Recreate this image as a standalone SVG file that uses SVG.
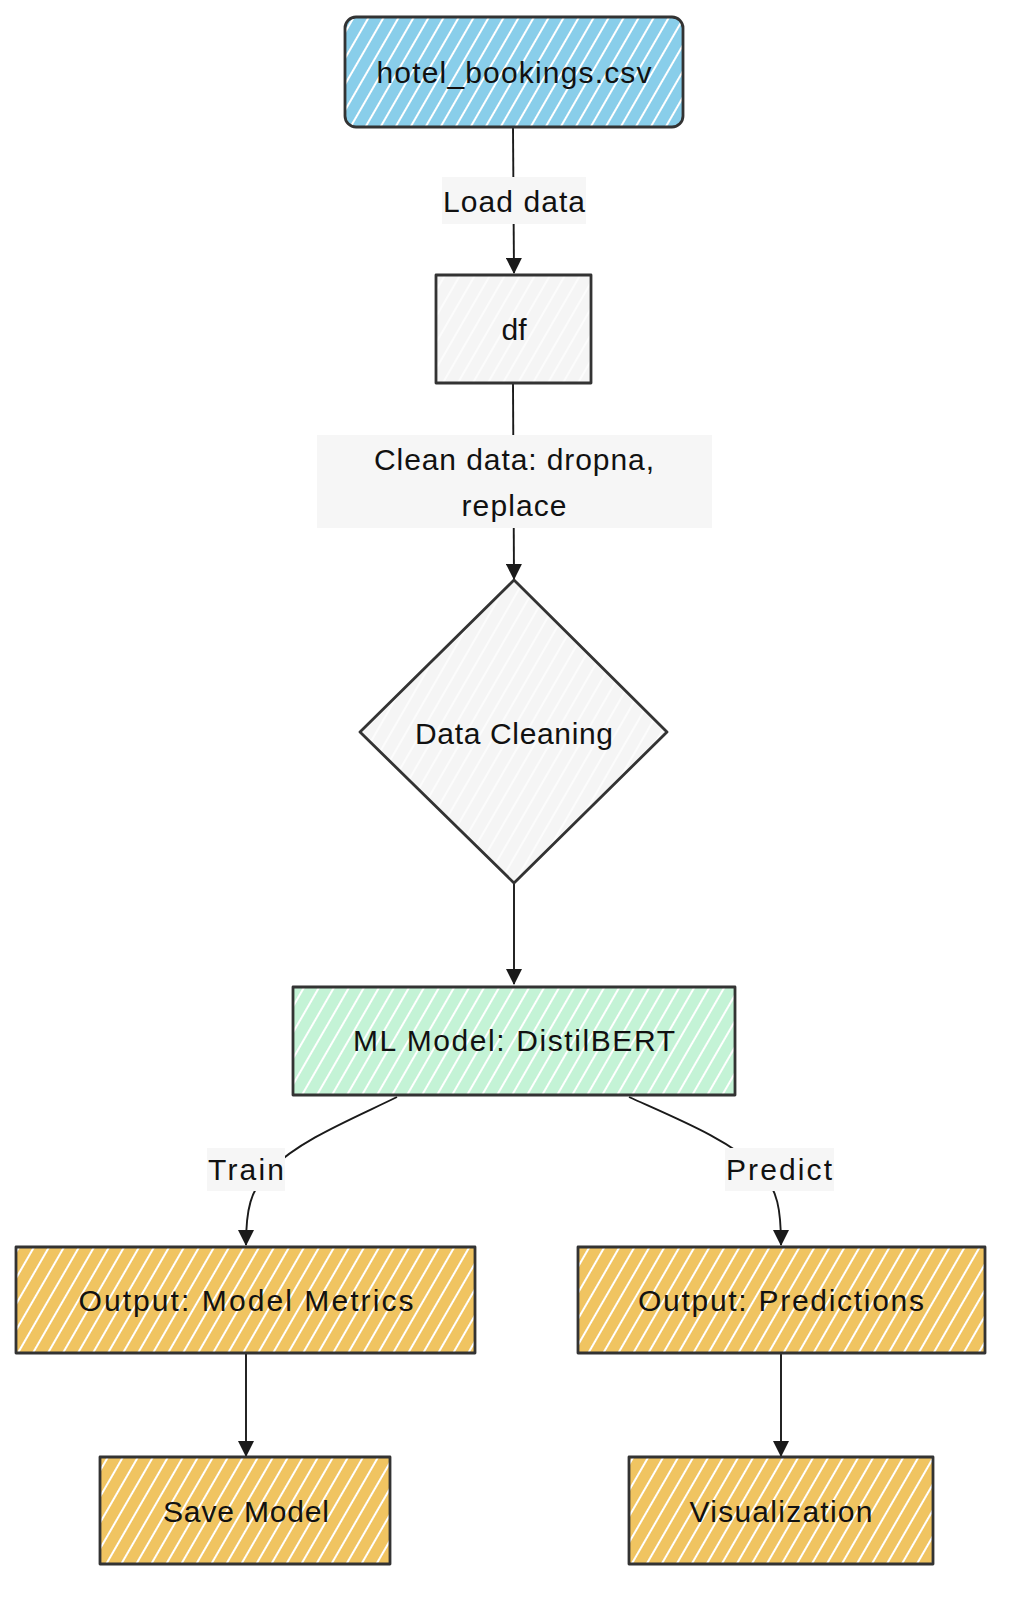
<svg xmlns="http://www.w3.org/2000/svg" width="1020" height="1608" viewBox="0 0 1020 1608">
<style>
  .box{stroke:#333;stroke-width:2.8;stroke-linejoin:round}
  .lbl{font-family:"Liberation Sans","DejaVu Sans",sans-serif;font-size:30px;fill:#111;text-anchor:middle}
  .edge{fill:none;stroke:#1a1a1a;stroke-width:1.9;marker-end:url(#arr)}
  .ebg{fill:#f6f6f6}
</style>
<defs>
  <pattern id="hBlue" patternUnits="userSpaceOnUse" width="13" height="13" patternTransform="rotate(30)">
    <rect width="13" height="13" fill="#89ceea"/>
    <line x1="3" y1="0" x2="3" y2="13" stroke="#ffffff" stroke-width="2"/>
  </pattern>
  <pattern id="hGray" patternUnits="userSpaceOnUse" width="13" height="13" patternTransform="rotate(30)">
    <rect width="13" height="13" fill="#f5f5f5"/>
    <line x1="3" y1="0" x2="3" y2="13" stroke="#ffffff" stroke-width="1.5"/>
  </pattern>
  <pattern id="hGreen" patternUnits="userSpaceOnUse" width="13" height="13" patternTransform="rotate(30)">
    <rect width="13" height="13" fill="#c4f3d6"/>
    <line x1="3" y1="0" x2="3" y2="13" stroke="#ffffff" stroke-width="2"/>
  </pattern>
  <pattern id="hOrange" patternUnits="userSpaceOnUse" width="13" height="13" patternTransform="rotate(30)">
    <rect width="13" height="13" fill="#f0c461"/>
    <line x1="3" y1="0" x2="3" y2="13" stroke="#ffffff" stroke-width="2"/>
  </pattern>
  <marker id="arr" viewBox="0 0 16 16" refX="15" refY="8" markerWidth="16" markerHeight="16" markerUnits="userSpaceOnUse" orient="auto">
    <path d="M0,0 L16,8 L0,16 z" fill="#1a1a1a"/>
  </marker>
</defs>
<rect width="1020" height="1608" fill="#ffffff"/>

<g id="connectors">
  <path class="edge" d="M513,127 L514,273"/>
  <path class="edge" d="M513,383 L514,579"/>
  <path class="edge" d="M514,883 L514,984"/>
  <path class="edge" d="M397,1097 C350,1120 300,1140 270,1170 C250,1190 246,1210 246,1245"/>
  <path class="edge" d="M629,1097 C680,1120 730,1140 760,1170 C778,1190 781,1210 781,1245"/>
  <path class="edge" d="M246,1353 L246,1456"/>
  <path class="edge" d="M781,1353 L781,1456"/>

  <rect class="ebg" x="442" y="177" width="144" height="47"/>
  <text class="lbl" x="514" y="212" textLength="142">Load data</text>
  <rect class="ebg" x="317" y="435" width="395" height="93"/>
  <text class="lbl" x="514" y="470" textLength="280">Clean data: dropna,</text>
  <text class="lbl" x="514" y="516" textLength="105">replace</text>
  <rect class="ebg" x="207" y="1148" width="78" height="43"/>
  <text class="lbl" x="246" y="1180" textLength="76">Train</text>
  <rect class="ebg" x="725" y="1148" width="109" height="43"/>
  <text class="lbl" x="779" y="1180" textLength="106">Predict</text>
</g>

<g id="n_csv">
  <rect class="box" x="345" y="17" width="338" height="110" rx="11" fill="url(#hBlue)"/>
  <text class="lbl" x="514" y="83" textLength="275">hotel_bookings.csv</text>
</g>
<g id="n_df">
  <rect class="box" x="436" y="275" width="155" height="108" fill="url(#hGray)"/>
  <text class="lbl" x="514" y="340">df</text>
</g>
<g id="n_clean">
  <path class="box" d="M514,580 L667,732 L514,883 L360,732 z" fill="url(#hGray)"/>
  <text class="lbl" x="514" y="744" textLength="198">Data Cleaning</text>
</g>
<g id="n_ml">
  <rect class="box" x="293" y="987" width="442" height="108" fill="url(#hGreen)"/>
  <text class="lbl" x="514" y="1051" textLength="322">ML Model: DistilBERT</text>
</g>
<g id="n_metrics">
  <rect class="box" x="16" y="1247" width="459" height="106" fill="url(#hOrange)"/>
  <text class="lbl" x="246" y="1311" textLength="335">Output: Model Metrics</text>
</g>
<g id="n_pred">
  <rect class="box" x="578" y="1247" width="407" height="106" fill="url(#hOrange)"/>
  <text class="lbl" x="781" y="1311" textLength="286">Output: Predictions</text>
</g>
<g id="n_save">
  <rect class="box" x="100" y="1457" width="290" height="107" fill="url(#hOrange)"/>
  <text class="lbl" x="246" y="1522" textLength="166">Save Model</text>
</g>
<g id="n_viz">
  <rect class="box" x="629" y="1457" width="304" height="107" fill="url(#hOrange)"/>
  <text class="lbl" x="781" y="1522" textLength="183">Visualization</text>
</g>
</svg>
